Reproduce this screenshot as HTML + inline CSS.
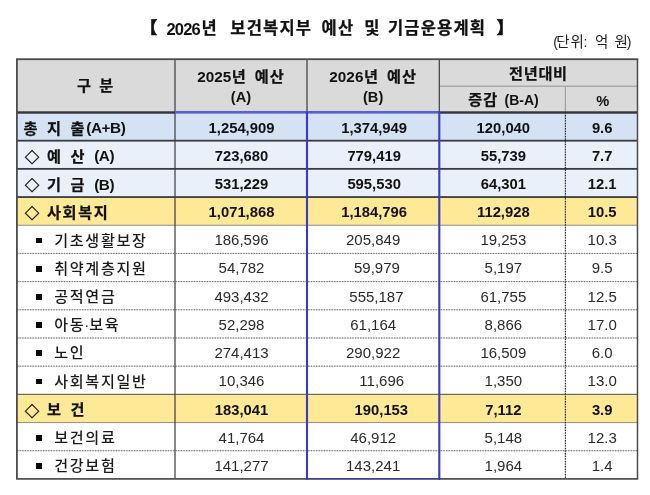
<!DOCTYPE html>
<html lang="ko"><head><meta charset="utf-8"><title>2026년 보건복지부 예산 및 기금운용계획</title>
<style>
html,body{margin:0;padding:0;background:#fff}
#p{will-change:transform;position:relative;width:650px;height:495px;overflow:hidden;background:#fff;font-family:"Liberation Sans","Noto Sans CJK KR",sans-serif;color:#111}
#g{position:absolute;left:0;top:0}
#p div{position:absolute;box-sizing:border-box;white-space:nowrap}
.sp{display:inline-block;height:1px}
.c{display:flex;align-items:center;justify-content:center;text-align:center}
.c>span.in{display:block}
.l{display:flex;align-items:center}
.title{display:flex;align-items:center;font-weight:bold;font-size:16.5px}
.title .k{letter-spacing:1.2px}
.title .tn{font-size:16.5px;letter-spacing:-0.8px;margin-right:1.4px;position:relative;top:0.9px}
.unit{font-size:14px;color:#222;text-align:right}
.unit .k{font-size:14.5px;letter-spacing:1px;word-spacing:2px}
.h{font-weight:bold;font-size:14.6px;line-height:20.6px}
.h .k{font-size:15.2px;letter-spacing:1.0px}
.h .hn{font-size:15.3px;letter-spacing:0;margin-right:0.6px}
.h .hp{font-size:14px}
.b{font-weight:bold;font-size:14.8px}
.n{font-size:15px;color:#2a2a2a}
.lab.b .k{font-size:15.2px;letter-spacing:1.65px}
.lab.b .w{word-spacing:2px}
.b .k,.h .k,.title .k{-webkit-text-stroke:0.25px #111}
.lab.b .ln{font-size:15.3px;letter-spacing:-0.4px;position:relative;top:-0.5px}
.lab.n .k{font-weight:500;font-size:15.1px;letter-spacing:1.7px;color:#1a1a1a}
.title .br{-webkit-text-stroke:0.7px #111}
.md{letter-spacing:0;margin:0 -0.2px 0 -1.0px}
.dia{display:inline-block;width:23px;font-weight:bold;font-size:14.6px;-webkit-text-stroke:0.45px #222;color:#222;position:relative;left:0.8px;top:1.1px}
.bul{display:block;flex:none;width:5.9px;height:5.9px;background:#0a0a0a;margin-right:12.1px;position:relative;top:1.8px}
</style></head>
<body><div id="p">
<svg id="g" width="650" height="495" viewBox="0 0 650 495">
<rect x="17.00" y="59.00" width="620.50" height="53.50" fill="#dadada"/>
<rect x="17.00" y="112.50" width="620.50" height="28.18" fill="#d5e2f3"/>
<rect x="17.00" y="140.68" width="620.50" height="28.18" fill="#eaf0fa"/>
<rect x="17.00" y="168.87" width="620.50" height="28.18" fill="#eaf0fa"/>
<rect x="17.00" y="197.05" width="620.50" height="28.18" fill="#fee997"/>
<rect x="17.00" y="394.35" width="620.50" height="28.18" fill="#fee997"/>
<rect x="17.00" y="139.78" width="620.00" height="1.80" fill="#3a3c40"/>
<rect x="17.00" y="167.97" width="620.00" height="1.80" fill="#3a3c40"/>
<rect x="17.00" y="196.15" width="620.00" height="1.80" fill="#3a3c40"/>
<rect x="17.00" y="224.69" width="620.00" height="1.10" fill="#9a968a"/>
<line x1="17.00" y1="253.42" x2="637.00" y2="253.42" stroke="#d8d8d8" stroke-width="1"/>
<line x1="17.00" y1="253.42" x2="637.00" y2="253.42" stroke="#666" stroke-width="1" stroke-dasharray="1.3 1.3"/>
<line x1="17.00" y1="281.61" x2="637.00" y2="281.61" stroke="#d8d8d8" stroke-width="1"/>
<line x1="17.00" y1="281.61" x2="637.00" y2="281.61" stroke="#666" stroke-width="1" stroke-dasharray="1.3 1.3"/>
<line x1="17.00" y1="309.79" x2="637.00" y2="309.79" stroke="#d8d8d8" stroke-width="1"/>
<line x1="17.00" y1="309.79" x2="637.00" y2="309.79" stroke="#666" stroke-width="1" stroke-dasharray="1.3 1.3"/>
<line x1="17.00" y1="337.98" x2="637.00" y2="337.98" stroke="#d8d8d8" stroke-width="1"/>
<line x1="17.00" y1="337.98" x2="637.00" y2="337.98" stroke="#666" stroke-width="1" stroke-dasharray="1.3 1.3"/>
<line x1="17.00" y1="366.16" x2="637.00" y2="366.16" stroke="#d8d8d8" stroke-width="1"/>
<line x1="17.00" y1="366.16" x2="637.00" y2="366.16" stroke="#666" stroke-width="1" stroke-dasharray="1.3 1.3"/>
<rect x="17.00" y="393.80" width="620.00" height="1.10" fill="#5a5a50"/>
<rect x="17.00" y="421.98" width="620.00" height="1.10" fill="#9a968a"/>
<line x1="17.00" y1="450.72" x2="637.00" y2="450.72" stroke="#d8d8d8" stroke-width="1"/>
<line x1="17.00" y1="450.72" x2="637.00" y2="450.72" stroke="#666" stroke-width="1" stroke-dasharray="1.3 1.3"/>
<rect x="439.30" y="85.65" width="197.70" height="1.10" fill="#9a9a9a"/>
<rect x="564.85" y="86.20" width="1.10" height="26.30" fill="#9a9a9a"/>
<rect x="174.40" y="59.00" width="1.20" height="419.90" fill="#3a3c40"/>
<rect x="306.40" y="59.00" width="1.20" height="53.50" fill="#3a3c40"/>
<rect x="438.70" y="59.00" width="1.20" height="53.50" fill="#3a3c40"/>
<line x1="565.40" y1="112.50" x2="565.40" y2="478.90" stroke="#000" stroke-opacity="0.22" stroke-width="1.1"/>
<line x1="565.40" y1="112.50" x2="565.40" y2="478.90" stroke="#222" stroke-width="1.1" stroke-dasharray="1.3 1.3"/>
<rect x="17.00" y="111.30" width="158.00" height="2.40" fill="#33363c"/>
<rect x="439.30" y="111.30" width="197.70" height="2.40" fill="#33363c"/>
<rect x="16.10" y="58.30" width="622.10" height="1.80" fill="#4a4c4e"/>
<rect x="16.10" y="478.05" width="290.90" height="1.70" fill="#4a4c4e"/>
<rect x="439.30" y="478.05" width="198.90" height="1.70" fill="#4a4c4e"/>
<rect x="16.00" y="59.00" width="1.80" height="419.90" fill="#4a4c4e"/>
<rect x="636.75" y="59.00" width="1.50" height="419.90" fill="#4a4c4e"/>
<rect x="175.00" y="111.00" width="264.30" height="2.60" fill="#5661cf"/>
<rect x="305.95" y="111.20" width="2.10" height="368.50" fill="#3b3ac4"/>
<rect x="438.25" y="111.20" width="2.10" height="368.50" fill="#3b3ac4"/>
<rect x="306.00" y="478.05" width="134.30" height="1.70" fill="#38388c"/>
</svg>
<div class="title" style="left:140px;top:13.3px;height:28px"><span class="in"><span class="k br" style="margin-left:0.7px">【</span><span class="sp" style="width:8.1px"> </span><span class="tn">2026</span><span class="k">년</span><span class="sp" style="width:12.5px"> </span><span class="k">보건복지부</span><span class="sp" style="width:9.4px"> </span><span class="k">예산</span><span class="sp" style="width:10px"> </span><span class="k">및</span><span class="sp" style="width:7.2px"> </span><span class="k">기금운용계획</span><span class="sp" style="width:10.5px"> </span><span class="k br">】</span></span></div>
<div class="unit" style="left:500px;top:29.8px;width:131.4px;height:20px">(<span class="k" style="margin-left:-1.7px">단위</span><span style="margin-left:-1.5px">:</span><span class="sp" style="width:7.7px"> </span><span class="k">억</span><span class="sp" style="width:5.2px"> </span><span class="k" style="letter-spacing:0">원</span><span style="margin-left:-1.2px">)</span></div>
<div class="c h" style="left:16.7px;top:59.9px;width:158.0px;height:53.5px"><span class="in"><span class="k" style="word-spacing:2px">구 분</span></span></div>
<div class="c h" style="left:175.0px;top:60.4px;width:132.0px;height:53.5px"><span class="in"><span class="hn">2025</span><span class="k">년</span><span class="sp" style="width:8px"> </span><span class="k">예산</span><br><span class="hp" style="font-size:14.6px">(A)</span></span></div>
<div class="c h" style="left:307.0px;top:60.4px;width:132.3px;height:53.5px"><span class="in"><span class="hn">2026</span><span class="k">년</span><span class="sp" style="width:8px"> </span><span class="k">예산</span><br><span class="hp" style="font-size:14.6px">(B)</span></span></div>
<div class="c h" style="left:439.6px;top:60.4px;width:197.7px;height:27.2px"><span class="in"><span class="k" style="letter-spacing:0.7px">전년대비</span></span></div>
<div class="c h" style="left:440.5px;top:87.2px;width:126.1px;height:26.3px"><span class="in"><span class="k">증감</span><span class="sp" style="width:6.2px"> </span><span class="hp">(B-A)</span></span></div>
<div class="c h" style="left:566.9px;top:87.7px;width:71.6px;height:26.3px"><span class="in"><span class="hp" style="font-size:14.6px">%</span></span></div>
<div class="l b lab" style="left:23.6px;top:112.6px;height:28.2px"><span class="in"><span class="k w">총 지 출</span><span class="ln">(A+B)</span></span></div>
<div class="c b num" style="left:175.5px;top:113.7px;width:132.0px;height:28.2px"><span class="in">1,254,909</span></div>
<div class="c b num" style="left:308.0px;top:113.7px;width:132.3px;height:28.2px"><span class="in">1,374,949</span></div>
<div class="c b num" style="left:440.3px;top:113.7px;width:126.1px;height:28.2px"><span class="in">120,040</span></div>
<div class="c b num" style="left:566.4px;top:113.7px;width:71.6px;height:28.2px"><span class="in">9.6</span></div>
<div class="l b lab" style="left:24.0px;top:140.8px;height:28.2px"><span class="in"><span class="dia">◇ </span><span class="k w">예 산</span><span class="sp" style="width:8px"> </span><span class="ln">(A)</span></span></div>
<div class="c b num" style="left:175.5px;top:141.9px;width:132.0px;height:28.2px"><span class="in">723,680</span></div>
<div class="c b num" style="left:308.0px;top:141.9px;width:132.3px;height:28.2px"><span class="in">779,419</span></div>
<div class="c b num" style="left:440.3px;top:141.9px;width:126.1px;height:28.2px"><span class="in">55,739</span></div>
<div class="c b num" style="left:566.4px;top:141.9px;width:71.6px;height:28.2px"><span class="in">7.7</span></div>
<div class="l b lab" style="left:24.0px;top:169.0px;height:28.2px"><span class="in"><span class="dia">◇ </span><span class="k w">기 금</span><span class="sp" style="width:8px"> </span><span class="ln">(B)</span></span></div>
<div class="c b num" style="left:175.5px;top:170.1px;width:132.0px;height:28.2px"><span class="in">531,229</span></div>
<div class="c b num" style="left:308.0px;top:170.1px;width:132.3px;height:28.2px"><span class="in">595,530</span></div>
<div class="c b num" style="left:440.3px;top:170.1px;width:126.1px;height:28.2px"><span class="in">64,301</span></div>
<div class="c b num" style="left:566.4px;top:170.1px;width:71.6px;height:28.2px"><span class="in">12.1</span></div>
<div class="l b lab" style="left:24.0px;top:197.2px;height:28.2px"><span class="in"><span class="dia">◇ </span><span class="k">사회복지</span></span></div>
<div class="c b num" style="left:175.5px;top:198.3px;width:132.0px;height:28.2px"><span class="in">1,071,868</span></div>
<div class="c b num" style="left:308.0px;top:198.3px;width:132.3px;height:28.2px"><span class="in">1,184,796</span></div>
<div class="c b num" style="left:440.3px;top:198.3px;width:126.1px;height:28.2px"><span class="in">112,928</span></div>
<div class="c b num" style="left:566.4px;top:198.3px;width:71.6px;height:28.2px"><span class="in">10.5</span></div>
<div class="l n lab" style="left:36.2px;top:224.6px;height:28.2px"><span class="bul"></span><span class="in"><span class="k">기초생활보장</span></span></div>
<div class="c n num" style="left:175.5px;top:225.7px;width:132.0px;height:28.2px"><span class="in">186,596</span></div>
<div class="c n num" style="left:307.0px;top:225.7px;width:132.3px;height:28.2px"><span class="in">205,849</span></div>
<div class="c n num" style="left:440.3px;top:225.7px;width:126.1px;height:28.2px"><span class="in">19,253</span></div>
<div class="c n num" style="left:566.4px;top:225.7px;width:71.6px;height:28.2px"><span class="in">10.3</span></div>
<div class="l n lab" style="left:36.2px;top:252.8px;height:28.2px"><span class="bul"></span><span class="in"><span class="k">취약계층지원</span></span></div>
<div class="c n num" style="left:175.5px;top:253.9px;width:132.0px;height:28.2px"><span class="in">54,782</span></div>
<div class="c n num" style="left:310.8px;top:253.9px;width:132.3px;height:28.2px"><span class="in">59,979</span></div>
<div class="c n num" style="left:440.3px;top:253.9px;width:126.1px;height:28.2px"><span class="in">5,197</span></div>
<div class="c n num" style="left:566.4px;top:253.9px;width:71.6px;height:28.2px"><span class="in">9.5</span></div>
<div class="l n lab" style="left:36.2px;top:281.0px;height:28.2px"><span class="bul"></span><span class="in"><span class="k">공적연금</span></span></div>
<div class="c n num" style="left:175.5px;top:282.1px;width:132.0px;height:28.2px"><span class="in">493,432</span></div>
<div class="c n num" style="left:310.3px;top:282.1px;width:132.3px;height:28.2px"><span class="in">555,187</span></div>
<div class="c n num" style="left:440.3px;top:282.1px;width:126.1px;height:28.2px"><span class="in">61,755</span></div>
<div class="c n num" style="left:566.4px;top:282.1px;width:71.6px;height:28.2px"><span class="in">12.5</span></div>
<div class="l n lab" style="left:36.2px;top:309.2px;height:28.2px"><span class="bul"></span><span class="in"><span class="k">아동<span class="md">·</span>보육</span></span></div>
<div class="c n num" style="left:175.5px;top:310.3px;width:132.0px;height:28.2px"><span class="in">52,298</span></div>
<div class="c n num" style="left:307.0px;top:310.3px;width:132.3px;height:28.2px"><span class="in">61,164</span></div>
<div class="c n num" style="left:440.3px;top:310.3px;width:126.1px;height:28.2px"><span class="in">8,866</span></div>
<div class="c n num" style="left:566.4px;top:310.3px;width:71.6px;height:28.2px"><span class="in">17.0</span></div>
<div class="l n lab" style="left:36.2px;top:337.4px;height:28.2px"><span class="bul"></span><span class="in"><span class="k">노인</span></span></div>
<div class="c n num" style="left:175.5px;top:338.5px;width:132.0px;height:28.2px"><span class="in">274,413</span></div>
<div class="c n num" style="left:307.0px;top:338.5px;width:132.3px;height:28.2px"><span class="in">290,922</span></div>
<div class="c n num" style="left:440.3px;top:338.5px;width:126.1px;height:28.2px"><span class="in">16,509</span></div>
<div class="c n num" style="left:566.4px;top:338.5px;width:71.6px;height:28.2px"><span class="in">6.0</span></div>
<div class="l n lab" style="left:36.2px;top:365.6px;height:28.2px"><span class="bul"></span><span class="in"><span class="k">사회복지일반</span></span></div>
<div class="c n num" style="left:175.5px;top:366.7px;width:132.0px;height:28.2px"><span class="in">10,346</span></div>
<div class="c n num" style="left:315.6px;top:366.7px;width:132.3px;height:28.2px"><span class="in">11,696</span></div>
<div class="c n num" style="left:440.3px;top:366.7px;width:126.1px;height:28.2px"><span class="in">1,350</span></div>
<div class="c n num" style="left:566.4px;top:366.7px;width:71.6px;height:28.2px"><span class="in">13.0</span></div>
<div class="l b lab" style="left:24.0px;top:394.4px;height:28.2px"><span class="in"><span class="dia">◇ </span><span class="k w">보 건</span></span></div>
<div class="c b num" style="left:175.5px;top:395.5px;width:132.0px;height:28.2px"><span class="in">183,041</span></div>
<div class="c b num" style="left:315.2px;top:395.5px;width:132.3px;height:28.2px"><span class="in">190,153</span></div>
<div class="c b num" style="left:440.3px;top:395.5px;width:126.1px;height:28.2px"><span class="in">7,112</span></div>
<div class="c b num" style="left:566.4px;top:395.5px;width:71.6px;height:28.2px"><span class="in">3.9</span></div>
<div class="l n lab" style="left:36.2px;top:421.9px;height:28.2px"><span class="bul"></span><span class="in"><span class="k">보건의료</span></span></div>
<div class="c n num" style="left:175.5px;top:423.0px;width:132.0px;height:28.2px"><span class="in">41,764</span></div>
<div class="c n num" style="left:307.0px;top:423.0px;width:132.3px;height:28.2px"><span class="in">46,912</span></div>
<div class="c n num" style="left:440.3px;top:423.0px;width:126.1px;height:28.2px"><span class="in">5,148</span></div>
<div class="c n num" style="left:566.4px;top:423.0px;width:71.6px;height:28.2px"><span class="in">12.3</span></div>
<div class="l n lab" style="left:36.2px;top:450.1px;height:28.2px"><span class="bul"></span><span class="in"><span class="k">건강보험</span></span></div>
<div class="c n num" style="left:175.5px;top:451.2px;width:132.0px;height:28.2px"><span class="in">141,277</span></div>
<div class="c n num" style="left:307.0px;top:451.2px;width:132.3px;height:28.2px"><span class="in">143,241</span></div>
<div class="c n num" style="left:440.3px;top:451.2px;width:126.1px;height:28.2px"><span class="in">1,964</span></div>
<div class="c n num" style="left:566.4px;top:451.2px;width:71.6px;height:28.2px"><span class="in">1.4</span></div>
</div></body></html>
